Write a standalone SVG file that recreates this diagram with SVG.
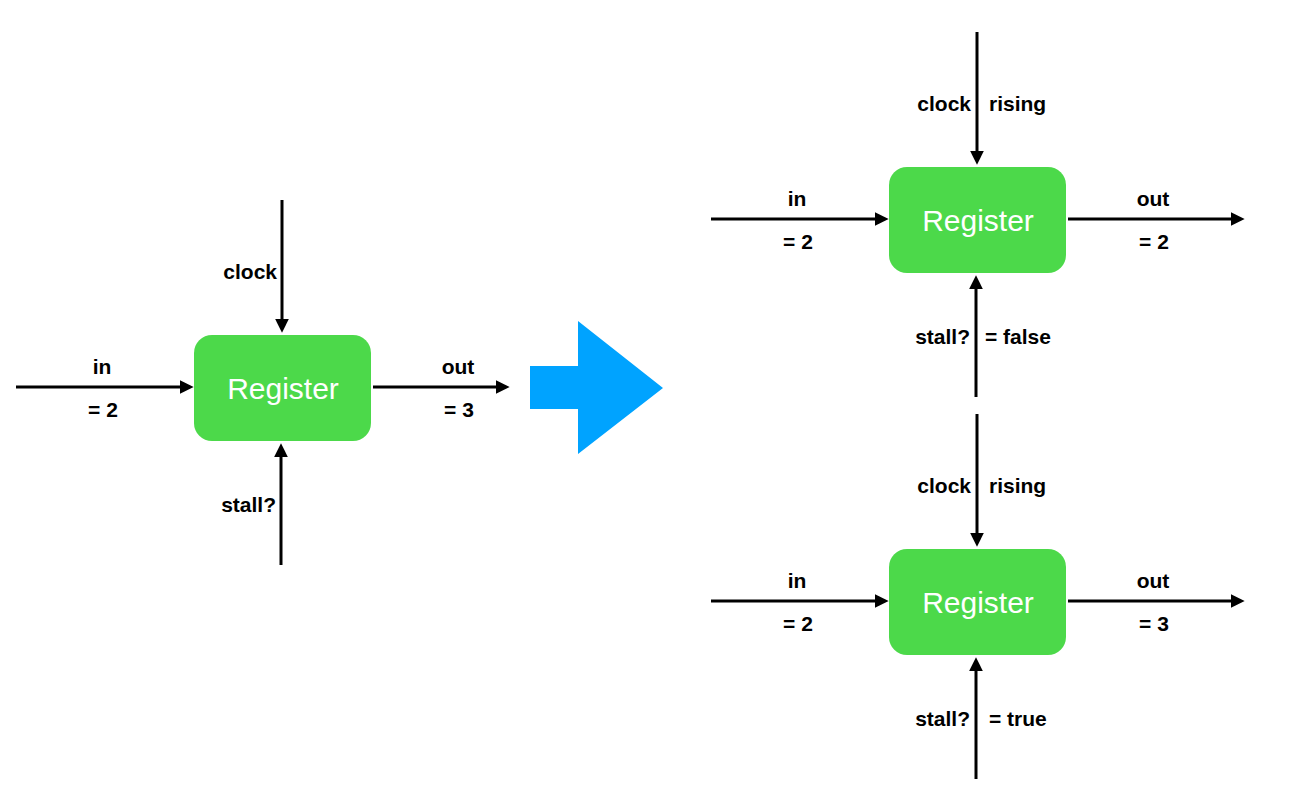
<svg xmlns="http://www.w3.org/2000/svg" width="1290" height="797" viewBox="0 0 1290 797">
<style>
.box{fill:#4CD94A;}
.reg{font-family:"Liberation Sans",Arial,sans-serif;font-size:30px;fill:#ffffff;text-anchor:middle;}
.lbl{font-family:"Liberation Sans",Arial,sans-serif;font-size:21px;font-weight:bold;fill:#000;}
.m{text-anchor:middle;}
.e{text-anchor:end;}
.s{text-anchor:start;}
.wire{stroke:#000;stroke-width:3;fill:none;marker-end:url(#ah);}
</style>
<defs>
<marker id="ah" markerUnits="userSpaceOnUse" markerWidth="14" markerHeight="14" refX="2" refY="6" orient="auto" viewBox="0 0 12 12">
<path d="M0,0 L12,6 L0,12 z" fill="#000"/>
</marker>
</defs>
<rect width="1290" height="797" fill="#ffffff"/>
<g id="connectors">
<line class="wire" x1="282" y1="200" x2="282" y2="321"/>
<line class="wire" x1="16" y1="387" x2="182" y2="387"/>
<line class="wire" x1="373" y1="387" x2="498" y2="387"/>
<line class="wire" x1="281" y1="565" x2="281" y2="455"/>
<line class="wire" x1="977" y1="32" x2="977" y2="153"/>
<line class="wire" x1="711" y1="219" x2="877" y2="219"/>
<line class="wire" x1="1068" y1="219" x2="1233" y2="219"/>
<line class="wire" x1="976" y1="397" x2="976" y2="287"/>
<line class="wire" x1="977" y1="414" x2="977" y2="535"/>
<line class="wire" x1="711" y1="601" x2="877" y2="601"/>
<line class="wire" x1="1068" y1="601" x2="1233" y2="601"/>
<line class="wire" x1="976" y1="779" x2="976" y2="669"/>
</g>
<g id="register-left">
<rect class="box" x="194" y="335" width="177" height="106" rx="18"/>
<text class="reg" x="283" y="399">Register</text>
</g>
<g id="labels-left">
<text class="lbl e" x="277" y="279">clock</text>
<text class="lbl m" x="102" y="374">in</text>
<text class="lbl m" x="103" y="417">= 2</text>
<text class="lbl m" x="458" y="374">out</text>
<text class="lbl m" x="459" y="417">= 3</text>
<text class="lbl e" x="276" y="512">stall?</text>
</g>
<g id="big-arrow">
<polygon points="530,366 578,366 578,321 663,388 578,454 578,409 530,409" fill="#00A3FF"/>
</g>
<g id="register-top">
<rect class="box" x="889" y="167" width="177" height="106" rx="18"/>
<text class="reg" x="978" y="231">Register</text>
</g>
<g id="labels-top">
<text class="lbl e" x="971" y="111">clock</text>
<text class="lbl s" x="989" y="111">rising</text>
<text class="lbl m" x="797" y="206">in</text>
<text class="lbl m" x="798" y="249">= 2</text>
<text class="lbl m" x="1153" y="206">out</text>
<text class="lbl m" x="1154" y="249">= 2</text>
<text class="lbl e" x="970" y="344">stall?</text>
<text class="lbl s" x="985" y="344">= false</text>
</g>
<g id="register-bottom">
<rect class="box" x="889" y="549" width="177" height="106" rx="18"/>
<text class="reg" x="978" y="613">Register</text>
</g>
<g id="labels-bottom">
<text class="lbl e" x="971" y="493">clock</text>
<text class="lbl s" x="989" y="493">rising</text>
<text class="lbl m" x="797" y="588">in</text>
<text class="lbl m" x="798" y="631">= 2</text>
<text class="lbl m" x="1153" y="588">out</text>
<text class="lbl m" x="1154" y="631">= 3</text>
<text class="lbl e" x="970" y="726">stall?</text>
<text class="lbl s" x="989" y="726">= true</text>
</g>
</svg>
